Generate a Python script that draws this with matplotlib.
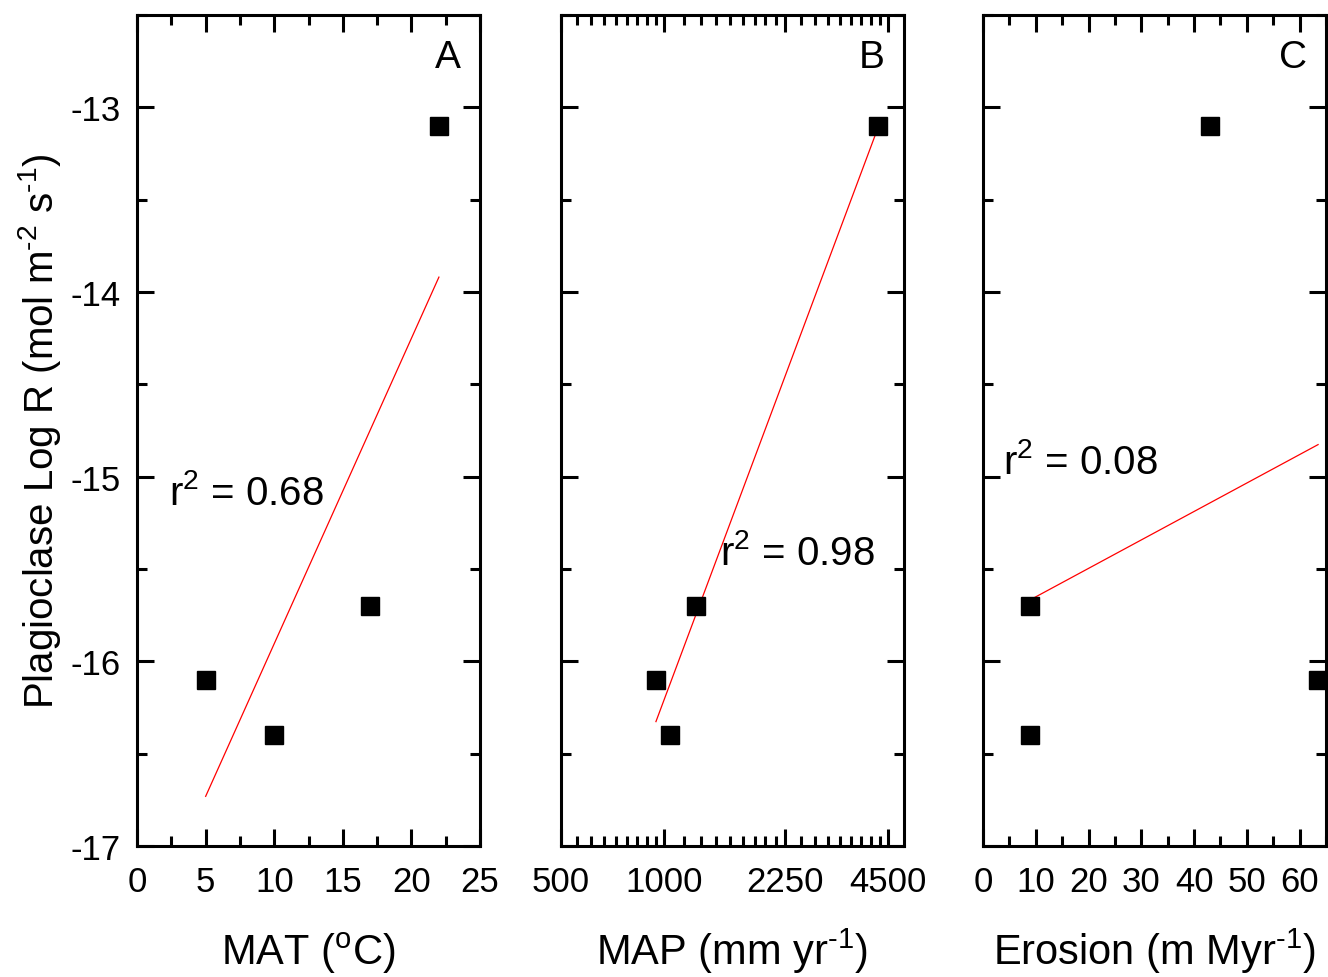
import numpy as np
import matplotlib.pyplot as plt

plt.rcParams['font.family'] = ['Liberation Sans', 'DejaVu Sans']
plt.rcParams['mathtext.fontset'] = 'custom'
plt.rcParams['mathtext.rm'] = 'Liberation Sans'
plt.rcParams['mathtext.it'] = 'Liberation Sans:italic'
plt.rcParams['axes.unicode_minus'] = False

# plagioclase dissolution rates, one per site
log_r = [-16.1, -16.4, -15.7, -13.1]
mat = [5, 10, 17, 22]            # mean annual temperature, C
map_ = [946, 1041, 1239, 4200]   # mean annual precipitation, mm/yr
erosion = [63.5, 9, 9, 43]       # erosion rate, m/Myr

HY = '\u2010'  # plain hyphen for superscript exponents

fig = plt.figure(figsize=(13.28, 9.78), dpi=100)

w, h = 0.2583, 0.8497
bot = 0.1339
lefts = [0.1032, 0.4224, 0.7402]
axes = [fig.add_axes([l, bot, w, h]) for l in lefts]

def fit_line(ax, x, y, logx=False):
    x = np.asarray(x, float)
    y = np.asarray(y, float)
    xx = np.log10(x) if logx else x
    slope, icpt = np.polyfit(xx, y, 1)
    r2 = np.corrcoef(xx, y)[0, 1] ** 2
    xs = np.array([x.min(), x.max()])
    xe = np.log10(xs) if logx else xs
    ax.plot(xs, slope * xe + icpt, color='red', lw=0.9, zorder=2)
    return r2

def style(ax, xlabel):
    ax.set_ylim(-17, -12.5)
    ax.set_yticks([-17, -16, -15, -14, -13])
    ax.set_yticks(np.arange(-16.5, -12.4, 1.0), minor=True)
    for s in ax.spines.values():
        s.set_linewidth(2.2)
    ax.tick_params(which='both', direction='in', top=True, right=True,
                   width=2.2, labelsize=25)
    ax.tick_params(which='major', length=12.5)
    ax.tick_params(which='minor', length=7)
    ax.tick_params(axis='y', pad=12)
    ax.tick_params(axis='x', pad=14)
    ax.set_xlabel(xlabel, fontsize=30, va='baseline')
    ax.xaxis.set_label_coords(0.5, -0.142)

def r2_text(ax, x, y, r2):
    ax.text(x, y, r'r$^{2}$ = %.2f' % r2, fontsize=29)

# A: temperature
ax = axes[0]
ax.plot(mat, log_r, 's', color='black', ms=12.7, zorder=3)
r2 = fit_line(ax, mat, log_r)
ax.set_xlim(0, 25)
ax.set_xticks([0, 5, 10, 15, 20, 25])
ax.set_xticks([2.5, 7.5, 12.5, 17.5, 22.5], minor=True)
style(ax, r'MAT ($^{\mathrm{o}}$C)')
r2_text(ax, 2.3, -15.15, r2)
ax.set_ylabel('Plagioclase Log R (mol m$^{%s2}$ s$^{%s1}$)' % (HY, HY),
              fontsize=29, va='center')
ax.yaxis.set_label_coords(-0.283, 0.5)

# B: precipitation, log axis
ax = axes[1]
ax.set_xscale('log')
ax.plot(map_, log_r, 's', color='black', ms=12.7, zorder=3)
r2 = fit_line(ax, map_, log_r, logx=True)
ax.set_xlim(500, 5000)
majors = [500, 1000, 2250, 4500]
ax.set_xticks(majors, [str(m) for m in majors])
minors = np.concatenate([np.linspace(a, b, 10)[1:-1] for a, b in zip(majors[:-1], majors[1:])])
ax.set_xticks(minors, minor=True)
ax.xaxis.set_minor_formatter(plt.NullFormatter())
style(ax, 'MAP (mm yr$^{%s1}$)' % HY)
ax.tick_params(axis='y', labelleft=False)
r2_text(ax, 1454, -15.47, r2)

# C: erosion
ax = axes[2]
ax.plot(erosion, log_r, 's', color='black', ms=12.7, zorder=3)
r2 = fit_line(ax, erosion, log_r)
ax.set_xlim(0, 65)
ax.set_xticks(np.arange(0, 61, 10))
ax.set_xticks(np.arange(5, 66, 10), minor=True)
style(ax, 'Erosion (m Myr$^{%s1}$)' % HY)
ax.tick_params(axis='y', labelleft=False)
r2_text(ax, 3.8, -14.98, r2)

for ax, lab in zip(axes, 'ABC'):
    ax.text(0.945, 0.937, lab, transform=ax.transAxes, ha='right',
            va='baseline', fontsize=28)

fig.savefig('out.png', dpi=100)
